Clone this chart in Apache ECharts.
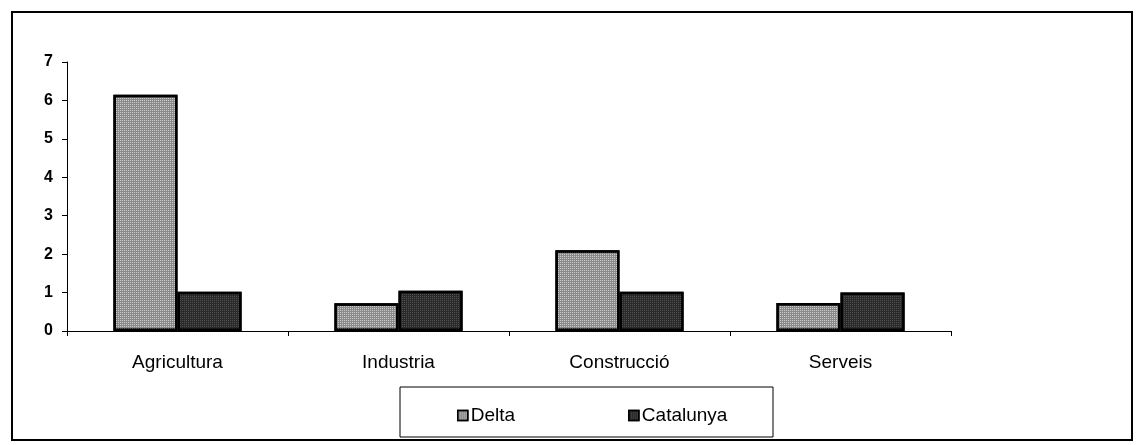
<!DOCTYPE html>
<html>
<head>
<meta charset="utf-8">
<script src="https://cdn.jsdelivr.net/npm/echarts@6/dist/echarts.min.js"></script>
<style>
  html, body { margin: 0; padding: 0; background: #fff; }
  #chart { width: 1143px; height: 445px; }
</style>
</head>
<body>
<div id="chart"></div>
<script>
// sectors and index values (Catalunya = 1)
const categories = ['Agricultura', 'Industria', 'Construcció', 'Serveis'];
const deltaValues = [6.15, 0.72, 2.1, 0.73];
const catalunyaValues = [1.02, 1.05, 1.02, 1.0];
const yTicks = { min: 0, max: 7, interval: 1 };

const font = '"Liberation Sans", Arial, sans-serif';

// fine dot texture, like the printed halftone
const dots = (color) => ({
  symbol: 'rect',
  symbolSize: 1,
  dashArrayX: [1, 1],
  dashArrayY: [1, 1],
  rotation: 0,
  color,
});

const myChart = echarts.init(document.getElementById('chart'));
const option = {
  backgroundColor: '#fff',
  animation: false,
  textStyle: { fontFamily: font, color: '#000' },
  graphic: [
    {
      type: 'rect',
      shape: { x: 12, y: 12, width: 1120, height: 428 },
      style: { fill: 'none', stroke: '#000', lineWidth: 2 },
    },
    {
      type: 'rect',
      shape: { x: 400, y: 387, width: 373, height: 50 },
      style: { fill: 'none', stroke: '#000', lineWidth: 1 },
    },
  ],
  legend: {
    left: 457,
    top: 406,
    padding: 0,
    itemGap: 113,
    itemWidth: 10,
    itemHeight: 10,
    icon: 'rect',
    itemStyle: { borderColor: '#000', borderWidth: 1.5 },
    textStyle: { fontFamily: font, fontSize: 19, color: '#000', padding: [0, 0, 0, -2] },
    data: ['Delta', 'Catalunya'],
  },
  grid: {
    left: 67,
    right: 192,
    top: 62,
    bottom: 114,
  },
  xAxis: {
    type: 'category',
    data: categories,
    axisLine: { lineStyle: { color: '#000', width: 1 } },
    axisTick: { show: true, length: 5, lineStyle: { color: '#000' } },
    axisLabel: { color: '#000', fontSize: 19, fontFamily: font, margin: 22 },
  },
  yAxis: {
    type: 'value',
    min: yTicks.min,
    max: yTicks.max,
    interval: yTicks.interval,
    splitLine: { show: false },
    axisLine: { show: true, lineStyle: { color: '#000', width: 1 } },
    axisTick: { show: true, length: 5, lineStyle: { color: '#000' } },
    axisLabel: { color: '#000', fontSize: 16, fontWeight: 'bold', fontFamily: font, margin: 14 },
  },
  series: [
    {
      name: 'Delta',
      type: 'bar',
      data: deltaValues,
      barGap: '0%',
      barCategoryGap: '42%',
      itemStyle: {
        color: '#8a8a8a',
        borderColor: '#000',
        borderWidth: 2.5,
        decal: dots('rgba(255,255,255,0.55)'),
      },
    },
    {
      name: 'Catalunya',
      type: 'bar',
      data: catalunyaValues,
      itemStyle: {
        color: '#2a2a2a',
        borderColor: '#000',
        borderWidth: 2.5,
        decal: dots('rgba(255,255,255,0.18)'),
      },
    },
  ],
};
myChart.setOption(option);
window.addEventListener('resize', () => {
  myChart.resize();
});
</script>
</body>
</html>
